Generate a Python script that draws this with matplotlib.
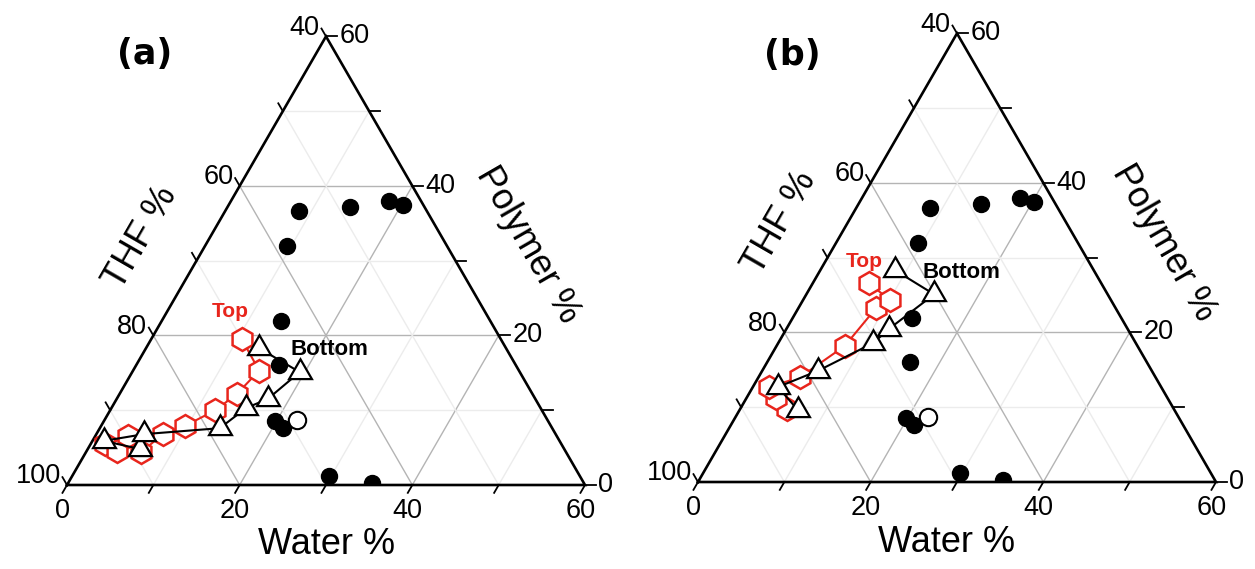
import numpy as np
import matplotlib.pyplot as plt
from matplotlib.patches import Polygon

plt.rcParams['font.family'] = ['Liberation Sans', 'DejaVu Sans']

# === data: (water %, polymer %) ; THF % = 100 - water - polymer ===

# binodal points (same in both panels)
binodal_water = [8.6, 14.2, 18.3, 20.2, 9.5, 13.8, 16.5, 19.9, 21.2, 29.7, 35.2]
binodal_polymer = [36.6, 37.2, 38.0, 37.5, 32.0, 22.0, 16.0, 8.5, 7.6, 1.2, 0.3]
open_water = [22.3]
open_polymer = [8.7]

# panel (a)
a_top_water = [1.6, 3.5, 3.8, 6.4, 7.7, 9.7, 12.2, 13.6, 14.6, 10.5]
a_top_polymer = [5.5, 4.6, 6.6, 4.4, 6.8, 7.9, 10.0, 12.2, 15.3, 19.5]
a_bot_water = [6.1, 1.3, 5.5, 13.9, 15.6, 17.5, 19.4, 13.1]
a_bot_polymer = [4.8, 5.9, 6.8, 7.6, 10.3, 11.5, 15.1, 18.3]

# panel (b)
b_top_water = [5.4, 3.4, 1.9, 4.8, 7.9, 9.0, 10.1, 6.5]
b_top_polymer = [9.8, 11.2, 12.7, 14.0, 18.2, 23.3, 24.3, 26.6]
b_bot_water = [6.8, 2.9, 6.5, 11.0, 11.9, 14.8, 8.7]
b_bot_polymer = [9.6, 12.7, 14.9, 18.6, 20.5, 25.1, 28.3]

S3 = np.sqrt(3) / 2
RED = '#e8251c'


def tern(w, p):
    w = np.asarray(w, float)
    p = np.asarray(p, float)
    return w + p / 2, p * S3


def draw_panel(ax, label, label_xy, top_w, top_p, bot_w, bot_p, top_xy, bot_xy,
               thf_xy, water_xy, poly_xy):
    ax.set_xlim(0, 60)
    ax.set_ylim(0, 60 * S3)
    ax.set_axis_off()

    # grid
    for v in [10, 20, 30, 40, 50]:
        c = '#b4b4b4' if v in (20, 40) else '#ececec'
        for (w1, p1), (w2, p2) in [((0, v), (60 - v, v)),
                                   ((v, 0), (v, 60 - v)),
                                   ((v, 0), (0, v))]:
            xs, ys = tern([w1, w2], [p1, p2])
            ax.plot(xs, ys, color=c, lw=1.0, zorder=1)

    # frame
    tx, ty = tern([0, 60, 0, 0], [0, 0, 60, 0])
    ax.plot(tx, ty, color='black', lw=1.9, zorder=2, clip_on=False,
            solid_joinstyle='miter')
    clip = Polygon(np.column_stack([tx[:3], ty[:3]]), closed=True,
                   transform=ax.transData, visible=False)
    ax.add_patch(clip)

    tl = 1.05
    # bottom ticks (water)
    for w in range(0, 61, 10):
        x0, y0 = w, 0
        x1, y1 = x0 - 0.5 * tl, y0 - S3 * tl
        ax.plot([x0, x1], [y0, y1], color='black', lw=1.3, clip_on=False)
        if w % 20 == 0:
            ax.text(x1, y1 - 0.6, str(w), ha='center', va='top', fontsize=19.5)
    # right ticks (polymer)
    for p in range(0, 61, 10):
        x0, y0 = tern(60 - p, p)
        x1 = x0 + tl * 1.2
        ax.plot([x0, x1], [y0, y0], color='black', lw=1.3, clip_on=False)
        if p % 20 == 0:
            ax.text(x1 + 0.3, y0, str(p), ha='left', va='center', fontsize=19.5)
    # left ticks (THF)
    for t in range(40, 101, 10):
        x0, y0 = tern(0, 100 - t)
        x1, y1 = x0 - 0.5 * tl, y0 + S3 * tl
        ax.plot([x0, x1], [y0, y1], color='black', lw=1.3, clip_on=False)
        if t % 20 == 0:
            ax.text(x1 - 0.2, y1 + 0.1, str(t), ha='right', va='center',
                    fontsize=19.5)

    # axis titles
    ax.text(*water_xy, 'Water %', ha='center', va='center', fontsize=26)
    ax.text(*thf_xy, 'THF %', ha='center', va='center', fontsize=26,
            rotation=60, rotation_mode='anchor')
    ax.text(*poly_xy, 'Polymer %', ha='center', va='center', fontsize=26,
            rotation=-60, rotation_mode='anchor')

    # top phase (red hexagons)
    x, y = tern(top_w, top_p)
    ax.plot(x, y, color=RED, lw=1.5, marker='h', ms=16.5, mfc='white',
            mec=RED, mew=1.8, zorder=3)
    # bottom phase (triangles)
    x, y = tern(bot_w, bot_p)
    ax.plot(x, y, color='black', lw=1.5, marker=(3, 0, 0), ms=19, mfc='white',
            mec='black', mew=1.6, zorder=4)

    # binodal
    x, y = tern(binodal_water, binodal_polymer)
    pts = ax.plot(x, y, ls='none', marker='o', ms=11.5, color='black', zorder=5)
    pts[0].set_clip_path(clip)
    x, y = tern(open_water, open_polymer)
    ax.plot(x, y, ls='none', marker='o', ms=12.5, mfc='white', mec='black',
            mew=1.5, zorder=5)

    ax.text(*top_xy, 'Top', color=RED, fontsize=15, fontweight='bold',
            ha='center', va='center', zorder=6)
    ax.text(*bot_xy, 'Bottom', color='black', fontsize=16, fontweight='bold',
            ha='center', va='center', zorder=6)
    ax.text(*label_xy, label, fontsize=25, fontweight='bold',
            family='DejaVu Sans', ha='center', va='center')


fig = plt.figure(figsize=(12.55, 5.69), dpi=100)
W, H = 1255, 569
axa = fig.add_axes([67 / W, (H - 485) / H, 518 / W, 448.6 / H])
axb = fig.add_axes([698 / W, (H - 482) / H, 518 / W, 448.6 / H])

draw_panel(axa, '(a)', (9.0, 49.9), a_top_water, a_top_polymer,
           a_bot_water, a_bot_polymer, (18.9, 20.1), (30.4, 15.7),
           (8.6, 28.6), (30.1, -6.9), (53.4, 27.8))
draw_panel(axb, '(b)', (10.9, 49.5), b_top_water, b_top_polymer,
           b_bot_water, b_bot_polymer, (19.2, 25.5), (30.5, 24.3),
           (9.5, 30.0), (28.8, -7.0), (54.0, 27.7))

fig.savefig('out.png', dpi=100, facecolor='white')
